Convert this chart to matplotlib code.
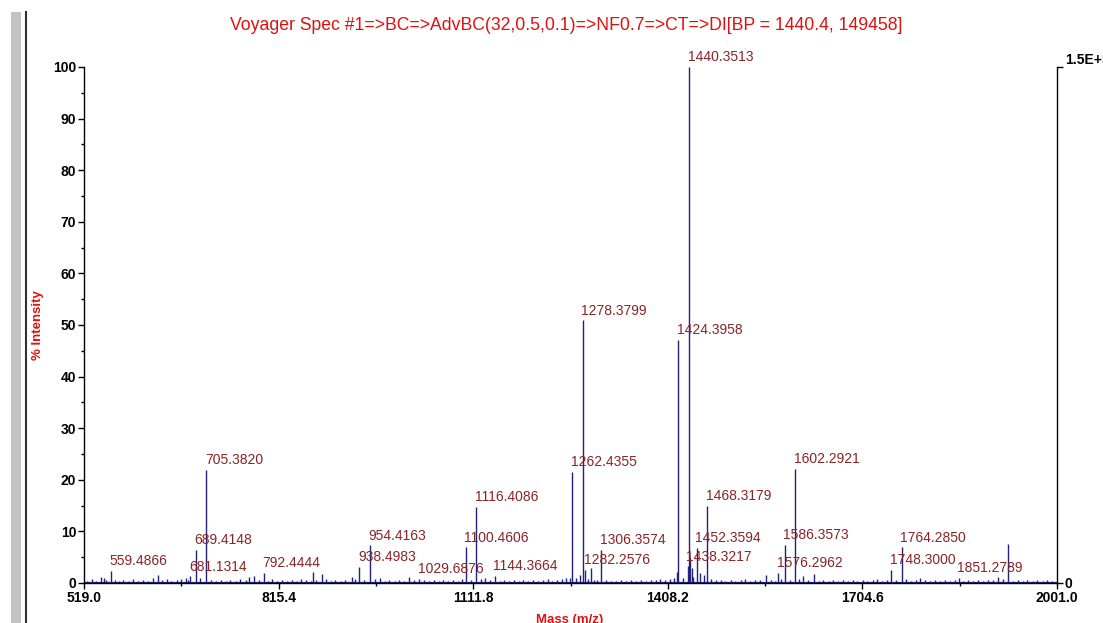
import matplotlib
matplotlib.use("Agg")
import matplotlib.pyplot as plt
from matplotlib.patches import Rectangle
from matplotlib.lines import Line2D
from matplotlib.ticker import MultipleLocator, FixedLocator

plt.rcParams['font.family'] = ['Liberation Sans', 'DejaVu Sans']

TITLE = "Voyager Spec #1=>BC=>AdvBC(32,0.5,0.1)=>NF0.7=>CT=>DI[BP = 1440.4, 149458]"
BASE_PEAK_COUNTS = 149458

# annotated peaks: m/z and % intensity
label_mz = [559.4866, 681.1314, 689.4148, 705.3820, 792.4444, 938.4983,
            954.4163, 1029.6876, 1100.4606, 1116.4086, 1144.3664, 1262.4355,
            1278.3799, 1282.2576, 1306.3574, 1424.3958, 1438.3217, 1440.3513,
            1452.3594, 1468.3179, 1576.2962, 1586.3573, 1602.2921, 1748.3000,
            1764.2850, 1851.2789]
label_int = [2.3, 1.3, 6.4, 21.9, 2.0, 3.1,
             7.3, 0.8, 6.9, 14.7, 1.4, 21.6,
             50.9, 2.6, 6.4, 47.1, 3.2, 100.0,
             6.8, 14.9, 1.9, 7.4, 22.1, 2.5,
             6.9, 1.0]

# unlabelled peaks that stand out of the noise
other_mz = [544.9, 631.3, 777.9, 867.8, 881.5, 926.8, 969.9, 1014.0, 1129.8,
            1259.0, 1274.0, 1290.8, 1421.8, 1442.4, 1445.1, 1457.3, 1463.4,
            1557.9, 1614.7, 1631.0, 1792.4, 1911.2, 1926.9]
other_int = [1.2, 1.5, 1.3, 2.1, 1.7, 1.2, 1.0, 1.2, 1.0,
             1.0, 1.5, 3.0, 2.2, 4.8, 3.0, 2.0, 1.5,
             1.5, 1.3, 1.7, 1.0, 1.2, 7.5]

# baseline chemical noise
noise = [(523, 0.4), (531, 0.7), (538, 0.3), (549, 0.9), (553, 0.5), (566, 0.6),
         (572, 0.3), (579, 0.5), (587, 0.4), (594, 0.8), (602, 0.3), (609, 0.6),
         (617, 0.4), (624, 0.9), (638, 0.5), (645, 0.7), (652, 0.3), (660, 0.6),
         (667, 0.8), (674, 1.0), (678, 0.6), (695, 0.9), (712, 0.5), (720, 0.4),
         (727, 0.6), (735, 0.3), (742, 0.5), (750, 0.4), (757, 0.7), (765, 0.5),
         (771, 1.1), (785, 0.6), (799, 0.4), (806, 0.7), (813, 0.3), (821, 0.5),
         (828, 0.4), (836, 0.6), (843, 0.3), (850, 0.7), (857, 0.5), (864, 0.4),
         (873, 0.6), (888, 0.8), (895, 0.4), (902, 0.5), (910, 0.3), (917, 0.6),
         (932, 0.7), (945, 0.5), (962, 0.8), (977, 0.4), (984, 0.6), (992, 0.3),
         (999, 0.5), (1006, 0.4), (1021, 0.6), (1037, 0.5), (1044, 0.3), (1052, 0.6),
         (1059, 0.4), (1066, 0.5), (1074, 0.3), (1081, 0.6), (1088, 0.4), (1095, 0.7),
         (1108, 0.5), (1124, 0.8), (1137, 0.6), (1152, 0.4), (1159, 0.5), (1166, 0.3),
         (1174, 0.6), (1181, 0.4), (1188, 0.5), (1196, 0.3), (1203, 0.6), (1210, 0.4),
         (1218, 0.5), (1225, 0.7), (1232, 0.4), (1240, 0.6), (1247, 0.8), (1253, 1.0),
         (1268, 0.9), (1287, 0.8), (1296, 0.6), (1301, 0.5), (1314, 0.6), (1322, 0.4),
         (1330, 0.3), (1337, 0.5), (1345, 0.4), (1352, 0.6), (1360, 0.3), (1367, 0.5),
         (1375, 0.4), (1382, 0.6), (1390, 0.5), (1397, 0.7), (1404, 0.5), (1412, 0.8),
         (1418, 1.0), (1431, 0.9), (1447, 1.1), (1474, 0.8), (1481, 0.6), (1489, 0.5),
         (1496, 0.4), (1504, 0.6), (1511, 0.3), (1519, 0.5), (1526, 0.7), (1534, 0.4),
         (1541, 0.6), (1549, 0.5), (1565, 0.6), (1571, 0.4), (1581, 0.7), (1594, 0.6),
         (1608, 0.8), (1622, 0.5), (1638, 0.4), (1645, 0.6), (1653, 0.3), (1660, 0.5),
         (1668, 0.4), (1675, 0.6), (1682, 0.3), (1690, 0.5), (1697, 0.4), (1705, 0.6),
         (1712, 0.3), (1720, 0.5), (1727, 0.7), (1735, 0.4), (1742, 0.6), (1756, 0.5),
         (1771, 0.7), (1779, 0.4), (1786, 0.6), (1800, 0.5), (1808, 0.3), (1815, 0.5),
         (1823, 0.4), (1830, 0.6), (1838, 0.3), (1845, 0.5), (1858, 0.4), (1866, 0.6),
         (1873, 0.3), (1881, 0.5), (1888, 0.4), (1896, 0.6), (1903, 0.5), (1918, 0.7),
         (1934, 0.4), (1941, 0.5), (1949, 0.3), (1956, 0.5), (1964, 0.4), (1971, 0.6),
         (1979, 0.3), (1986, 0.5), (1994, 0.4)]

x_major = [519.0, 815.4, 1111.8, 1408.2, 1704.6, 2001.0]

NAVY = '#22227c'
MAROON = '#8a2424'
RED = '#e01010'

fig = plt.figure(figsize=(11.03, 6.23), dpi=100)
fig.patch.set_facecolor('white')

# window frame strip on the left edge
fig.add_artist(Rectangle((11 / 1103, 0), 10 / 1103, 611 / 623,
                         transform=fig.transFigure, color='#c4c4c4', lw=0))
fig.add_artist(Line2D([26 / 1103, 26 / 1103], [0, 611 / 623],
                      transform=fig.transFigure, color='#303030', lw=1.5))

ax = fig.add_axes([84 / 1103, 1 - 583 / 623, 973 / 1103, 516 / 623])
ax.set_xlim(x_major[0], x_major[-1])
ax.set_ylim(0, 100)

# spectrum
ax.hlines(0, x_major[0], x_major[-1], color=NAVY, lw=1.6, zorder=2)
nz_mz = [p[0] for p in noise]
nz_int = [p[1] for p in noise]
ax.vlines(nz_mz, 0, nz_int, color=NAVY, lw=1.0, zorder=2)
ax.vlines(other_mz, 0, other_int, color=NAVY, lw=1.0, zorder=2)
ax.vlines(label_mz, 0, label_int, color=NAVY, lw=1.0, zorder=2)

for mz, inten in zip(label_mz, label_int):
    ax.annotate(f"{mz:.4f}", (mz, inten), xytext=(-1, 2),
                textcoords='offset points', ha='left', va='bottom',
                fontsize=10, color=MAROON, annotation_clip=False, zorder=3)

for side in ('top', 'right'):
    ax.spines[side].set_visible(False)
for side in ('left', 'bottom'):
    ax.spines[side].set_linewidth(1.0)
    ax.spines[side].set_color('black')

ax.xaxis.set_major_locator(FixedLocator(x_major))
ax.xaxis.set_minor_locator(FixedLocator([(a + b) / 2 for a, b in zip(x_major[:-1], x_major[1:])]))
ax.set_xticklabels([f"{v:.1f}" for v in x_major])
ax.yaxis.set_major_locator(MultipleLocator(10))
ax.yaxis.set_minor_locator(MultipleLocator(5))
ax.tick_params(axis='both', which='major', direction='out', length=4, width=1,
               labelsize=10, pad=1.5)
ax.tick_params(axis='both', which='minor', direction='out', length=2.5, width=1)
for lbl in ax.get_xticklabels() + ax.get_yticklabels():
    lbl.set_fontweight('bold')

# raw counts on the right
ax2 = ax.twinx()
ax2.set_ylim(0, BASE_PEAK_COUNTS)
for side in ('top', 'left', 'bottom'):
    ax2.spines[side].set_visible(False)
ax2.spines['right'].set_linewidth(1.0)
ax2.set_yticks([0, BASE_PEAK_COUNTS])
ax2.set_yticklabels(['0', '1.5E+5'])
ax2.tick_params(axis='y', direction='out', length=4, width=1, labelsize=10, pad=1.5)
rl = ax2.get_yticklabels()
for lbl in rl:
    lbl.set_fontweight('bold')
rl[1].set_verticalalignment('bottom')

fig.text(566 / 1103, 1 - 25 / 623, TITLE, ha='center', va='center',
         fontsize=12.7, color=RED)
fig.text(38 / 1103, 1 - 325 / 623, '% Intensity', rotation=90, ha='center',
         va='center', fontsize=9.5, fontweight='bold', color=RED)
fig.text(570 / 1103, 1 - 620 / 623, 'Mass (m/z)', ha='center', va='center',
         fontsize=9.5, fontweight='bold', color=RED)

fig.savefig('out.png', dpi=100)
